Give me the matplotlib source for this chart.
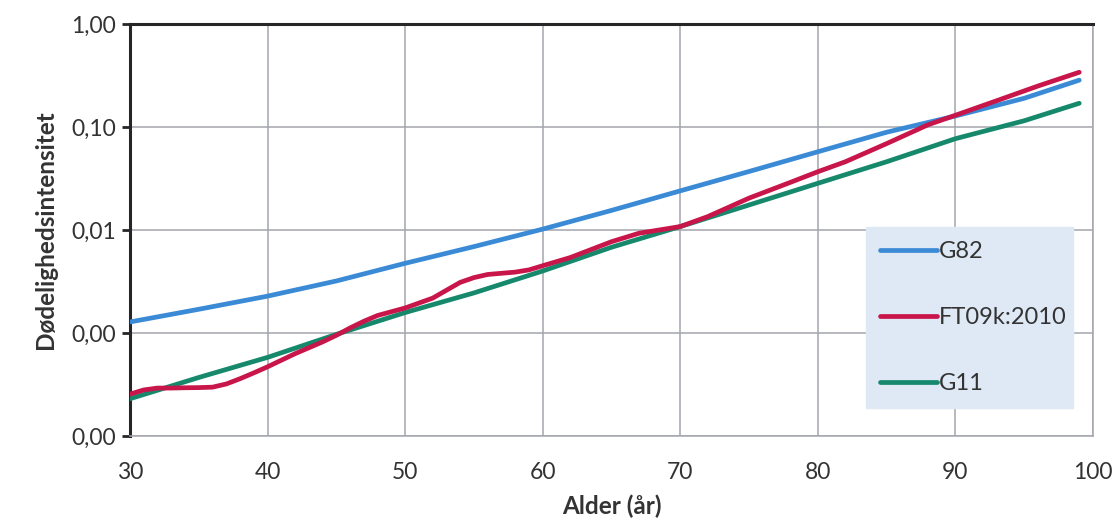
import matplotlib
matplotlib.use("Agg")
import matplotlib.pyplot as plt
from matplotlib.ticker import FixedLocator, FixedFormatter, NullLocator

# ---- data ----
g82_age = [30, 35, 40, 45, 50, 55, 60, 65, 70, 75, 80, 85, 90, 95, 99]
g82_val = [0.00128, 0.0017, 0.00228, 0.0032, 0.00475, 0.0069, 0.0102, 0.0155,
           0.0240, 0.037, 0.0575, 0.089, 0.128, 0.19, 0.285]

ft_age = [30, 31, 32, 33, 34, 35, 36, 37, 38, 39, 40, 42, 44, 45, 46, 47, 48, 50,
          52, 53, 54, 55, 56, 57, 58, 59, 60, 62, 65, 67, 70, 72, 75, 78, 80, 82,
          85, 88, 90, 93, 96, 99]
ft_val = [0.000255, 0.00028, 0.000292, 0.000292, 0.000294, 0.000295, 0.000298,
          0.00032, 0.00036, 0.00041, 0.00047, 0.00063, 0.00082, 0.00095, 0.00112,
          0.0013, 0.00148, 0.00175, 0.00218, 0.0026, 0.0031, 0.00345, 0.0037,
          0.0038, 0.0039, 0.0041, 0.0045, 0.0054, 0.0077, 0.0093, 0.0108, 0.0135,
          0.0204, 0.029, 0.0368, 0.046, 0.069, 0.105, 0.13, 0.18, 0.25, 0.34]

g11_age = [30, 35, 40, 45, 50, 55, 60, 65, 70, 75, 80, 85, 90, 95, 99]
g11_val = [0.00023, 0.00037, 0.00058, 0.00097, 0.00158, 0.00245, 0.0040, 0.0068,
           0.0108, 0.0175, 0.0284, 0.046, 0.077, 0.115, 0.17]

x_ticks = [30, 40, 50, 60, 70, 80, 90, 100]
y_ticks = [0.0001, 0.001, 0.01, 0.1, 1.0]
y_tick_labels = ["0,00", "0,00", "0,01", "0,10", "1,00"]

series_names = ["G82", "FT09k:2010", "G11"]

# ---- figure ----
plt.rcParams['font.family'] = ['Lato', 'DejaVu Sans']
fig = plt.figure(figsize=(11.16, 5.21), dpi=100)
ax = fig.add_axes([130 / 1116, 1 - 436 / 521, (1093 - 130) / 1116, (436 - 24) / 521])

blue = "#3a8ad6"
red = "#c8154a"
green = "#16896c"

l1, = ax.plot(g82_age, g82_val, color=blue, lw=3.4, solid_capstyle='round', zorder=3)
l3, = ax.plot(g11_age, g11_val, color=green, lw=3.4, solid_capstyle='round', zorder=3)
l2, = ax.plot(ft_age, ft_val, color=red, lw=3.4, solid_capstyle='round', zorder=4)

ax.set_yscale('log')
ax.set_xlim(30, 100)
ax.set_ylim(0.0001, 1.0)
ax.xaxis.set_major_locator(FixedLocator(x_ticks))
ax.yaxis.set_major_locator(FixedLocator(y_ticks))
ax.yaxis.set_major_formatter(FixedFormatter(y_tick_labels))
ax.yaxis.set_minor_locator(NullLocator())

ax.grid(True, color="#a3a6ae", lw=1.1, zorder=0)
ax.set_axisbelow(True)

for s in ['left', 'top']:
    ax.spines[s].set_color("#262626")
    ax.spines[s].set_linewidth(2.2)
for s in ['right', 'bottom']:
    ax.spines[s].set_color("#a3a6ae")
    ax.spines[s].set_linewidth(1.1)

ax.tick_params(axis='y', direction='out', length=6, width=2, color="#262626",
               labelsize=16.5, labelcolor="#333333", pad=4)
ax.tick_params(axis='x', length=0, labelsize=16.5, labelcolor="#333333", pad=19)

ax.set_ylabel("Dødelighedsintensitet", fontsize=17.5, fontweight='bold', color="#333333", labelpad=10)
ax.set_xlabel("Alder (år)", fontsize=17.5, fontweight='bold', color="#333333", labelpad=8)

leg = ax.legend([l1, l2, l3], series_names, loc='lower left',
                bbox_to_anchor=(0.764, 0.068, 0.215, 0.427), mode='expand',
                frameon=True, fancybox=False, fontsize=17, handlelength=2.4,
                handletextpad=0.1, labelspacing=1.9, borderpad=0.6,
                borderaxespad=0)
leg.get_frame().set_facecolor("#dfe9f6")
leg.get_frame().set_edgecolor("#dfe9f6")
leg.get_frame().set_alpha(1)
for t in leg.get_texts():
    t.set_color("#333333")

fig.savefig("out.png", dpi=100)
